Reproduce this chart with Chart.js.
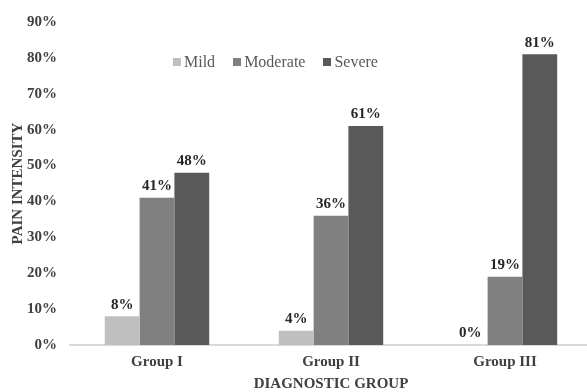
<!DOCTYPE html>
<html>
<head>
<meta charset="utf-8">
<script src="https://cdn.jsdelivr.net/npm/chart.js@4.4.1/dist/chart.umd.min.js"></script>
<style>
  html, body { margin: 0; padding: 0; background: #fff; overflow: hidden; }
  #wrap { position: relative; width: 587px; height: 392px; overflow: hidden; }
  #legend { position: absolute; left: 173px; top: 53px; display: flex; font-family: "Liberation Serif", serif; font-size: 16px; color: #595959; white-space: nowrap; }
  #legend .item { display: flex; align-items: center; margin-right: 18px; }
  #legend .box { width: 8px; height: 8px; margin-right: 3px; }
</style>
</head>
<body>
<div id="wrap">
  <canvas id="c" width="592" height="392"></canvas>
  <div id="legend"></div>
</div>
<script>
const categories = ["Group I", "Group II", "Group III"];
const seriesNames = ["Mild", "Moderate", "Severe"];
const mild = [8, 4, 0];
const moderate = [41, 36, 19];
const severe = [48, 61, 81];
const yTicks = [0, 10, 20, 30, 40, 50, 60, 70, 80, 90];
const colors = ["#BFBFBF", "#808080", "#595959"];

const FONT = "'Liberation Serif', 'Times New Roman', serif";

const valueLabels = {
  id: 'valueLabels',
  afterDatasetsDraw(chart) {
    const ctx = chart.ctx;
    ctx.save();
    ctx.font = "bold 15px " + FONT;
    ctx.fillStyle = "#262626";
    ctx.textAlign = "center";
    ctx.textBaseline = "bottom";
    chart.data.datasets.forEach((ds, i) => {
      const meta = chart.getDatasetMeta(i);
      meta.data.forEach((bar, j) => {
        ctx.fillText(ds.data[j] + "%", bar.x, bar.y - 4);
      });
    });
    ctx.restore();
  }
};

const chart = new Chart(document.getElementById('c'), {
  type: 'bar',
  data: {
    labels: categories,
    datasets: [
      { label: seriesNames[0], data: mild, backgroundColor: colors[0] },
      { label: seriesNames[1], data: moderate, backgroundColor: colors[1] },
      { label: seriesNames[2], data: severe, backgroundColor: colors[2] }
    ]
  },
  options: {
    responsive: false,
    animation: false,
    layout: { padding: { top: 15, right: 0, left: 0, bottom: 0 } },
    datasets: { bar: { categoryPercentage: 0.6, barPercentage: 1.0 } },
    plugins: {
      legend: { display: false },
      tooltip: { enabled: false }
    },
    scales: {
      x: {
        afterFit(scale) { scale.height = 47; },
        grid: { display: false, drawTicks: false },
        border: { display: true, color: "#D9D9D9", width: 2 },
        ticks: { font: { family: FONT, size: 15, weight: 'bold' }, color: "#404040", padding: 8 },
        title: { display: true, text: "DIAGNOSTIC GROUP", font: { family: FONT, size: 15, weight: 'bold' }, color: "#404040", padding: { top: 5, bottom: -1 } }
      },
      y: {
        min: 0, max: 90,
        afterBuildTicks(scale) { scale.ticks = yTicks.map(v => ({ value: v })); },
        afterFit(scale) { scale.width = 70; },
        grid: { display: false, drawTicks: false },
        border: { display: false },
        ticks: { font: { family: FONT, size: 15, weight: 'bold' }, color: "#404040", padding: 13, callback: v => v + "%" },
        title: { display: true, text: "PAIN INTENSITY", font: { family: FONT, size: 15, weight: 'bold' }, color: "#404040", padding: { top: 9, bottom: 0 } }
      }
    }
  },
  plugins: [valueLabels]
});

const legendEl = document.getElementById('legend');
chart.data.datasets.forEach(ds => {
  const item = document.createElement('div');
  item.className = 'item';
  const box = document.createElement('span');
  box.className = 'box';
  box.style.background = ds.backgroundColor;
  const txt = document.createElement('span');
  txt.textContent = ds.label;
  item.appendChild(box);
  item.appendChild(txt);
  legendEl.appendChild(item);
});
</script>
</body>
</html>
